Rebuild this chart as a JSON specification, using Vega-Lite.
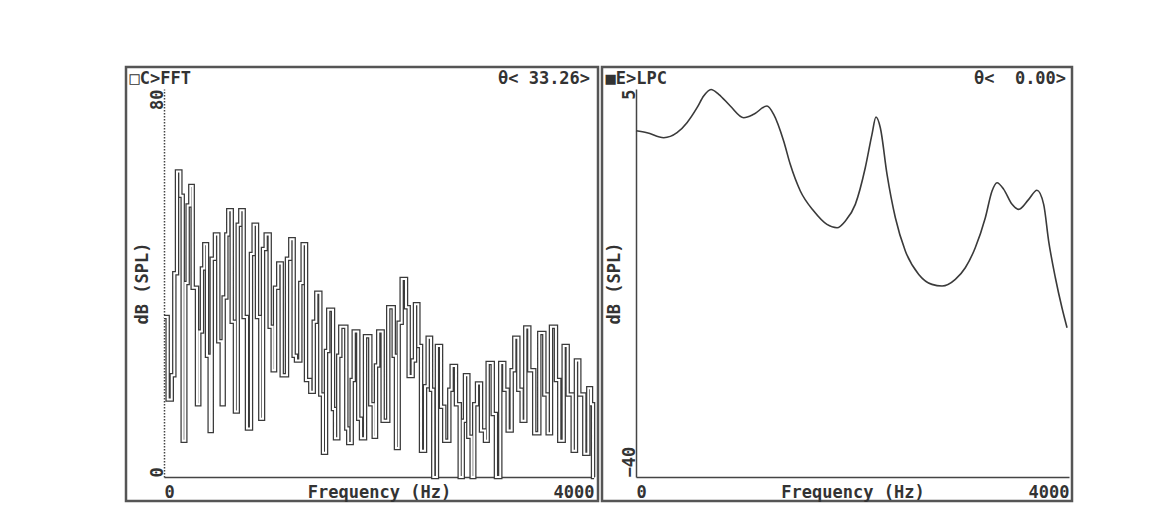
{
  "$schema": "https://vega.github.io/schema/vega-lite/v6.json",
  "autosize": {"type": "pad"},
  "padding": {"left": 124, "top": 65, "right": 0, "bottom": 0},
  "background": "white",
  "spacing": 0,
  "config": {
    "view": {"stroke": "#555", "strokeWidth": 2.5},
    "axis": {
      "grid": false, "ticks": false,
      "labelFont": "DejaVu Sans Mono", "labelFontSize": 17, "labelFontWeight": "bold", "labelColor": "#333",
      "titleFont": "DejaVu Sans Mono", "titleFontSize": 17, "titleFontWeight": "bold", "titleColor": "#333",
      "domainColor": "#444", "domainWidth": 1.5
    }
  },
  "datasets": {
    "fft": [
      {"f": 0, "db": 33}, {"f": 34, "db": 16}, {"f": 72, "db": 21}, {"f": 96, "db": 42}, {"f": 121, "db": 63},
      {"f": 152, "db": 58}, {"f": 174, "db": 7.5}, {"f": 198, "db": 40}, {"f": 220, "db": 56}, {"f": 245, "db": 60},
      {"f": 267, "db": 39}, {"f": 307, "db": 15}, {"f": 328, "db": 30}, {"f": 353, "db": 43}, {"f": 375, "db": 48},
      {"f": 400, "db": 25}, {"f": 425, "db": 9.5}, {"f": 444, "db": 45}, {"f": 474, "db": 50}, {"f": 505, "db": 28},
      {"f": 537, "db": 15}, {"f": 555, "db": 37}, {"f": 580, "db": 50}, {"f": 598, "db": 55}, {"f": 630, "db": 32},
      {"f": 660, "db": 13.5}, {"f": 686, "db": 52}, {"f": 710, "db": 55}, {"f": 741, "db": 33}, {"f": 772, "db": 10},
      {"f": 809, "db": 46}, {"f": 834, "db": 52}, {"f": 865, "db": 33}, {"f": 896, "db": 12}, {"f": 921, "db": 47},
      {"f": 946, "db": 50}, {"f": 983, "db": 31}, {"f": 1011, "db": 22}, {"f": 1033, "db": 39}, {"f": 1063, "db": 44},
      {"f": 1095, "db": 21}, {"f": 1144, "db": 45}, {"f": 1175, "db": 49}, {"f": 1206, "db": 25}, {"f": 1228, "db": 24},
      {"f": 1268, "db": 40}, {"f": 1290, "db": 48}, {"f": 1321, "db": 20}, {"f": 1361, "db": 17.6}, {"f": 1393, "db": 32},
      {"f": 1417, "db": 38}, {"f": 1454, "db": 17}, {"f": 1479, "db": 5}, {"f": 1507, "db": 26}, {"f": 1528, "db": 34.5},
      {"f": 1572, "db": 14}, {"f": 1591, "db": 8}, {"f": 1621, "db": 25}, {"f": 1640, "db": 31}, {"f": 1696, "db": 10},
      {"f": 1714, "db": 7}, {"f": 1746, "db": 20}, {"f": 1765, "db": 30}, {"f": 1807, "db": 12}, {"f": 1833, "db": 8},
      {"f": 1870, "db": 29}, {"f": 1919, "db": 15}, {"f": 1951, "db": 8.3}, {"f": 1972, "db": 23}, {"f": 1993, "db": 30},
      {"f": 2034, "db": 11.6}, {"f": 2086, "db": 35}, {"f": 2137, "db": 25}, {"f": 2158, "db": 6}, {"f": 2183, "db": 31.8},
      {"f": 2211, "db": 40.8}, {"f": 2251, "db": 35}, {"f": 2276, "db": 20.8}, {"f": 2313, "db": 24}, {"f": 2335, "db": 35.6},
      {"f": 2366, "db": 27}, {"f": 2391, "db": 5.4}, {"f": 2428, "db": 18.7}, {"f": 2453, "db": 28.7}, {"f": 2484, "db": 18},
      {"f": 2505, "db": 0}, {"f": 2539, "db": 27}, {"f": 2577, "db": 14.5}, {"f": 2607, "db": 7.5}, {"f": 2654, "db": 18},
      {"f": 2676, "db": 22.9}, {"f": 2716, "db": 15}, {"f": 2751, "db": 0}, {"f": 2779, "db": 11.6}, {"f": 2800, "db": 21},
      {"f": 2831, "db": 8.3}, {"f": 2862, "db": 0}, {"f": 2886, "db": 15}, {"f": 2912, "db": 19.3}, {"f": 2949, "db": 9.6},
      {"f": 2986, "db": 7.5}, {"f": 3011, "db": 23.5}, {"f": 3058, "db": 13}, {"f": 3088, "db": 0}, {"f": 3128, "db": 23.5},
      {"f": 3165, "db": 18}, {"f": 3197, "db": 9.6}, {"f": 3234, "db": 22}, {"f": 3259, "db": 28.7}, {"f": 3296, "db": 18},
      {"f": 3327, "db": 11.6}, {"f": 3361, "db": 30.8}, {"f": 3398, "db": 22}, {"f": 3444, "db": 9}, {"f": 3491, "db": 29.7},
      {"f": 3538, "db": 17}, {"f": 3569, "db": 9}, {"f": 3600, "db": 31}, {"f": 3646, "db": 20}, {"f": 3677, "db": 7.5},
      {"f": 3718, "db": 27}, {"f": 3755, "db": 17}, {"f": 3802, "db": 5.4}, {"f": 3832, "db": 24}, {"f": 3863, "db": 17},
      {"f": 3910, "db": 4.8}, {"f": 3947, "db": 18.3}, {"f": 3972, "db": 15}, {"f": 3991, "db": 0}, {"f": 4000, "db": 0}
    ],
    "lpc": [
      {"f": 0, "db": 0.15}, {"f": 102, "db": -0.07}, {"f": 256, "db": -0.65}, {"f": 379, "db": -0.07}, {"f": 471, "db": 1.09},
      {"f": 564, "db": 2.83}, {"f": 625, "db": 4.19}, {"f": 693, "db": 4.95}, {"f": 764, "db": 4.39}, {"f": 871, "db": 3.03},
      {"f": 995, "db": 1.67}, {"f": 1087, "db": 2.06}, {"f": 1210, "db": 3.03}, {"f": 1272, "db": 2.06}, {"f": 1364, "db": -1.03},
      {"f": 1425, "db": -3.74}, {"f": 1518, "db": -6.83}, {"f": 1642, "db": -9.15}, {"f": 1764, "db": -10.7}, {"f": 1857, "db": -11.09},
      {"f": 1934, "db": -10.31}, {"f": 2026, "db": -8.38}, {"f": 2118, "db": -4.13}, {"f": 2180, "db": -0.26}, {"f": 2217, "db": 1.75},
      {"f": 2257, "db": 0.51}, {"f": 2319, "db": -4.9}, {"f": 2396, "db": -9.93}, {"f": 2488, "db": -13.79}, {"f": 2612, "db": -16.5},
      {"f": 2734, "db": -17.66}, {"f": 2827, "db": -17.85}, {"f": 2950, "db": -17.08}, {"f": 3042, "db": -15.73}, {"f": 3134, "db": -13.41},
      {"f": 3227, "db": -9.93}, {"f": 3289, "db": -6.83}, {"f": 3335, "db": -5.87}, {"f": 3397, "db": -6.64}, {"f": 3474, "db": -8.38},
      {"f": 3535, "db": -8.96}, {"f": 3628, "db": -7.8}, {"f": 3704, "db": -6.75}, {"f": 3766, "db": -8.38}, {"f": 3812, "db": -12.63},
      {"f": 3874, "db": -16.89}, {"f": 3935, "db": -20.37}, {"f": 3982, "db": -22.69}
    ]
  },
  "hconcat": [
    {
      "width": 472,
      "height": 434,
      "data": {"name": "fft"},
      "resolve": {"axis": {"x": "independent"}},
      "layer": [
        {
          "mark": {"type": "line", "interpolate": "step-after", "color": "#3a3a3a", "strokeWidth": 4.5, "clip": true},
          "encoding": {
            "x": {
              "field": "f", "type": "quantitative",
              "scale": {"domain": [0, 4000], "range": [38, 468], "nice": false, "zero": false},
              "axis": {"orient": "bottom", "offset": -24, "values": [0, 4000], "format": "d", "labelFlush": true, "labelPadding": 20, "labelBaseline": "alphabetic", "title": "Frequency (Hz)", "titleY": 20, "titleBaseline": "alphabetic"}
            },
            "y": {
              "field": "db", "type": "quantitative",
              "scale": {"domain": [0, 80], "range": [410, 22], "nice": false},
              "axis": {"orient": "left", "offset": -38, "values": [0, 80], "format": "d", "labelAngle": 270,
                "labelAlign": {"condition": {"test": "datum.value == 80", "value": "right"}, "value": "left"},
                "labelBaseline": "alphabetic", "labelPadding": 2, "labelFlush": false, "labelOverlap": false,
                "title": "dB (SPL)", "titleAngle": 270, "titleX": -17, "titleBaseline": "alphabetic", "domainDash": [1.5, 1.5]}
            }
          }
        },
        {
          "mark": {"type": "line", "interpolate": "step-after", "color": "white", "strokeWidth": 2, "clip": true},
          "encoding": {
            "x": {
              "field": "f", "type": "quantitative",
              "axis": {"orient": "top", "offset": -16, "domain": false, "values": [0], "labelExpr": "'□C>FFT\u00a0\u00a0\u00a0\u00a0\u00a0\u00a0\u00a0\u00a0\u00a0\u00a0\u00a0\u00a0\u00a0\u00a0\u00a0\u00a0\u00a0\u00a0\u00a0\u00a0\u00a0\u00a0\u00a0\u00a0\u00a0\u00a0\u00a0\u00a0\u00a0\u00a0θ<\u00a033.26>'", "labelAlign": "left", "labelOffset": -35, "labelBaseline": "alphabetic", "labelPadding": 0, "labelFlush": false, "labelOverlap": false, "labelLimit": 0, "title": null}
            },
            "y": {"field": "db", "type": "quantitative"}
          }
        }
      ]
    },
    {
      "width": 470,
      "height": 434,
      "data": {"name": "lpc"},
      "resolve": {"axis": {"x": "independent"}},
      "layer": [
        {
          "mark": {"type": "line", "interpolate": "monotone", "color": "#3a3a3a", "strokeWidth": 1.6, "clip": true},
          "encoding": {
            "x": {
              "field": "f", "type": "quantitative",
              "scale": {"domain": [0, 4000], "range": [34, 467], "nice": false, "zero": false},
              "axis": {"orient": "bottom", "offset": -24, "values": [0, 4000], "format": "d", "labelFlush": true, "labelPadding": 20, "labelBaseline": "alphabetic", "title": "Frequency (Hz)", "titleY": 20, "titleBaseline": "alphabetic"}
            },
            "y": {
              "field": "db", "type": "quantitative",
              "scale": {"domain": [-40, 5], "range": [410, 22], "nice": false, "zero": false},
              "axis": {"orient": "left", "offset": -34, "values": [-40, 5], "format": "d", "labelAngle": 270,
                "labelAlign": {"condition": {"test": "datum.value == 5", "value": "right"}, "value": "left"},
                "labelBaseline": "alphabetic", "labelPadding": 2, "labelFlush": false, "labelOverlap": false,
                "title": "dB (SPL)", "titleAngle": 270, "titleX": -17, "titleBaseline": "alphabetic"}
            }
          }
        },
        {
          "mark": {"type": "line", "interpolate": "monotone", "color": "#3a3a3a", "strokeWidth": 1.6, "opacity": 0, "clip": true},
          "encoding": {
            "x": {
              "field": "f", "type": "quantitative",
              "axis": {"orient": "top", "offset": -16, "domain": false, "values": [0], "labelExpr": "'■E>LPC\u00a0\u00a0\u00a0\u00a0\u00a0\u00a0\u00a0\u00a0\u00a0\u00a0\u00a0\u00a0\u00a0\u00a0\u00a0\u00a0\u00a0\u00a0\u00a0\u00a0\u00a0\u00a0\u00a0\u00a0\u00a0\u00a0\u00a0\u00a0\u00a0\u00a0θ<\u00a0\u00a00.00>'", "labelAlign": "left", "labelOffset": -31, "labelBaseline": "alphabetic", "labelPadding": 0, "labelFlush": false, "labelOverlap": false, "labelLimit": 0, "title": null}
            },
            "y": {"field": "db", "type": "quantitative"}
          }
        }
      ]
    }
  ]
}
